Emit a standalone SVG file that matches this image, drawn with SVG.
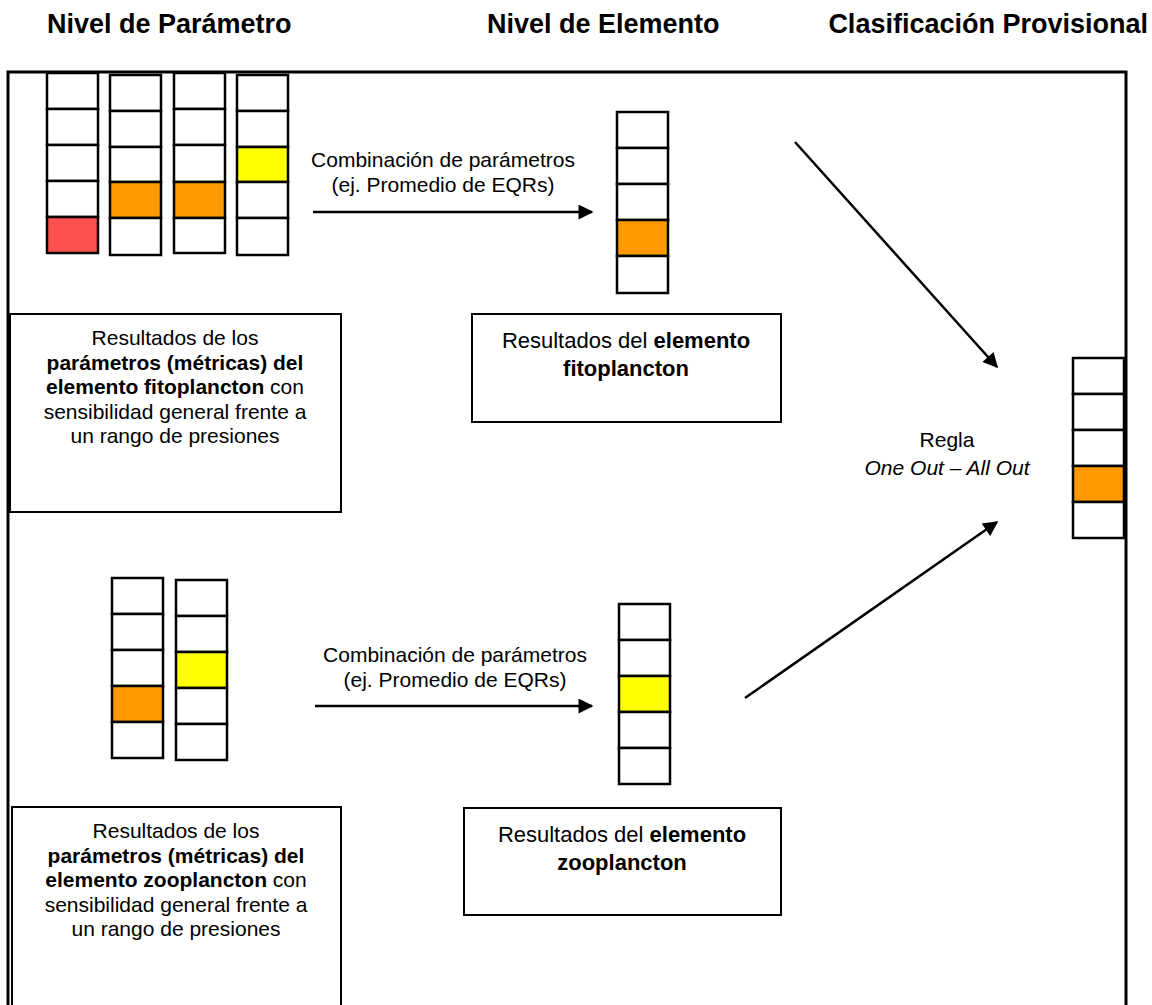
<svg xmlns="http://www.w3.org/2000/svg" width="1152" height="1005" viewBox="0 0 1152 1005">
<defs>
<style>
.hdr{font-family:"Liberation Sans",Arial,sans-serif;font-weight:bold;font-size:27px;fill:#000}
.t{font-family:"Liberation Sans",Arial,sans-serif;font-size:21px;fill:#000;text-anchor:middle}
.b{font-weight:bold}
.i{font-style:italic}
.cell{fill:#fff;stroke:#000;stroke-width:2.5}
.box{fill:#fff;stroke:#000;stroke-width:2}
.frame{fill:none;stroke:#000;stroke-width:3}
.red{fill:#ff5050}
.org{fill:#ff9900}
.yel{fill:#ffff00}
.conn{stroke:#000;stroke-width:2.5;fill:none;marker-end:url(#ah)}
</style>
<marker id="ah" viewBox="0 0 10 10" refX="9" refY="5" markerWidth="7" markerHeight="6" markerUnits="strokeWidth" orient="auto">
<path d="M0,0 L10,5 L0,10 z" fill="#000"/>
</marker>
</defs>
<rect width="1152" height="1005" fill="#fff"/>

<g id="headers">
<text class="hdr" x="47" y="33">Nivel de Parámetro</text>
<text class="hdr" x="487" y="33">Nivel de Elemento</text>
<text class="hdr" x="1148" y="33" text-anchor="end">Clasificación Provisional</text>
</g>

<g id="frame">
<path class="frame" d="M8,1005 L8,72 L1126,72 L1126,1005"/>
</g>

<g id="param-fito">
<g>
<rect class="cell" x="47" y="73" width="51" height="36"/>
<rect class="cell" x="47" y="109" width="51" height="36"/>
<rect class="cell" x="47" y="145" width="51" height="36"/>
<rect class="cell" x="47" y="181" width="51" height="36"/>
<rect class="cell red" x="47" y="217" width="51" height="36"/>
</g>
<g>
<rect class="cell" x="110" y="75" width="51" height="36"/>
<rect class="cell" x="110" y="111" width="51" height="36"/>
<rect class="cell" x="110" y="147" width="51" height="35"/>
<rect class="cell org" x="110" y="182" width="51" height="36"/>
<rect class="cell" x="110" y="218" width="51" height="37"/>
</g>
<g>
<rect class="cell" x="174" y="73" width="51" height="36"/>
<rect class="cell" x="174" y="109" width="51" height="36"/>
<rect class="cell" x="174" y="145" width="51" height="37"/>
<rect class="cell org" x="174" y="182" width="51" height="36"/>
<rect class="cell" x="174" y="218" width="51" height="35"/>
</g>
<g>
<rect class="cell" x="237" y="75" width="51" height="36"/>
<rect class="cell" x="237" y="111" width="51" height="36"/>
<rect class="cell yel" x="237" y="147" width="51" height="35"/>
<rect class="cell" x="237" y="182" width="51" height="36"/>
<rect class="cell" x="237" y="218" width="51" height="37"/>
</g>
</g>

<g id="box-param-fito">
<rect class="box" x="10" y="314" width="331" height="198"/>
<text class="t" x="175" y="345">Resultados de los</text>
<text class="t b" x="175" y="370">parámetros (métricas) del</text>
<text class="t" x="175" y="394"><tspan class="b">elemento fitoplancton</tspan> con</text>
<text class="t" x="175" y="419">sensibilidad general frente a</text>
<text class="t" x="175" y="443">un rango de presiones</text>
</g>

<g id="elem-fito">
<rect class="cell" x="617" y="112" width="51" height="36"/>
<rect class="cell" x="617" y="148" width="51" height="36"/>
<rect class="cell" x="617" y="184" width="51" height="36"/>
<rect class="cell org" x="617" y="220" width="51" height="36"/>
<rect class="cell" x="617" y="256" width="51" height="37"/>
</g>

<g id="box-elem-fito">
<rect class="box" x="472" y="314" width="309" height="108"/>
<text class="t" x="626" y="348" style="font-size:22px">Resultados del <tspan class="b">elemento</tspan></text>
<text class="t b" x="626" y="376" style="font-size:22px">fitoplancton</text>
</g>

<g id="label-comb-fito">
<text class="t" x="443" y="167">Combinación de parámetros</text>
<text class="t" x="443" y="192">(ej. Promedio de EQRs)</text>
</g>

<g id="param-zoo">
<g>
<rect class="cell" x="112" y="578" width="51" height="36"/>
<rect class="cell" x="112" y="614" width="51" height="36"/>
<rect class="cell" x="112" y="650" width="51" height="36"/>
<rect class="cell org" x="112" y="686" width="51" height="36"/>
<rect class="cell" x="112" y="722" width="51" height="36"/>
</g>
<g>
<rect class="cell" x="176" y="580" width="51" height="36"/>
<rect class="cell" x="176" y="616" width="51" height="36"/>
<rect class="cell yel" x="176" y="652" width="51" height="36"/>
<rect class="cell" x="176" y="688" width="51" height="36"/>
<rect class="cell" x="176" y="724" width="51" height="36"/>
</g>
</g>

<g id="box-param-zoo">
<rect class="box" x="12" y="807" width="329" height="210"/>
<text class="t" x="176" y="838">Resultados de los</text>
<text class="t b" x="176" y="863">parámetros (métricas) del</text>
<text class="t" x="176" y="887"><tspan class="b">elemento zooplancton</tspan> con</text>
<text class="t" x="176" y="912">sensibilidad general frente a</text>
<text class="t" x="176" y="936">un rango de presiones</text>
</g>

<g id="elem-zoo">
<rect class="cell" x="619" y="604" width="51" height="36"/>
<rect class="cell" x="619" y="640" width="51" height="36"/>
<rect class="cell yel" x="619" y="676" width="51" height="36"/>
<rect class="cell" x="619" y="712" width="51" height="36"/>
<rect class="cell" x="619" y="748" width="51" height="36"/>
</g>

<g id="box-elem-zoo">
<rect class="box" x="464" y="808" width="317" height="107"/>
<text class="t" x="622" y="842" style="font-size:22px">Resultados del <tspan class="b">elemento</tspan></text>
<text class="t b" x="622" y="870" style="font-size:22px">zooplancton</text>
</g>

<g id="label-comb-zoo">
<text class="t" x="455" y="662">Combinación de parámetros</text>
<text class="t" x="455" y="687">(ej. Promedio de EQRs)</text>
</g>

<g id="final">
<rect class="cell" x="1073" y="358" width="51" height="36"/>
<rect class="cell" x="1073" y="394" width="51" height="36"/>
<rect class="cell" x="1073" y="430" width="51" height="36"/>
<rect class="cell org" x="1073" y="466" width="51" height="36"/>
<rect class="cell" x="1073" y="502" width="51" height="36"/>
</g>

<g id="label-regla">
<text class="t" x="947" y="447">Regla</text>
<text class="t i" x="947" y="475">One Out – All Out</text>
</g>

<g id="connectors">
<line class="conn" x1="313" y1="212" x2="592" y2="212"/>
<line class="conn" x1="315" y1="706" x2="592" y2="706"/>
<line class="conn" x1="795" y1="142" x2="997" y2="367"/>
<line class="conn" x1="745" y1="698" x2="997" y2="522"/>
</g>
</svg>
